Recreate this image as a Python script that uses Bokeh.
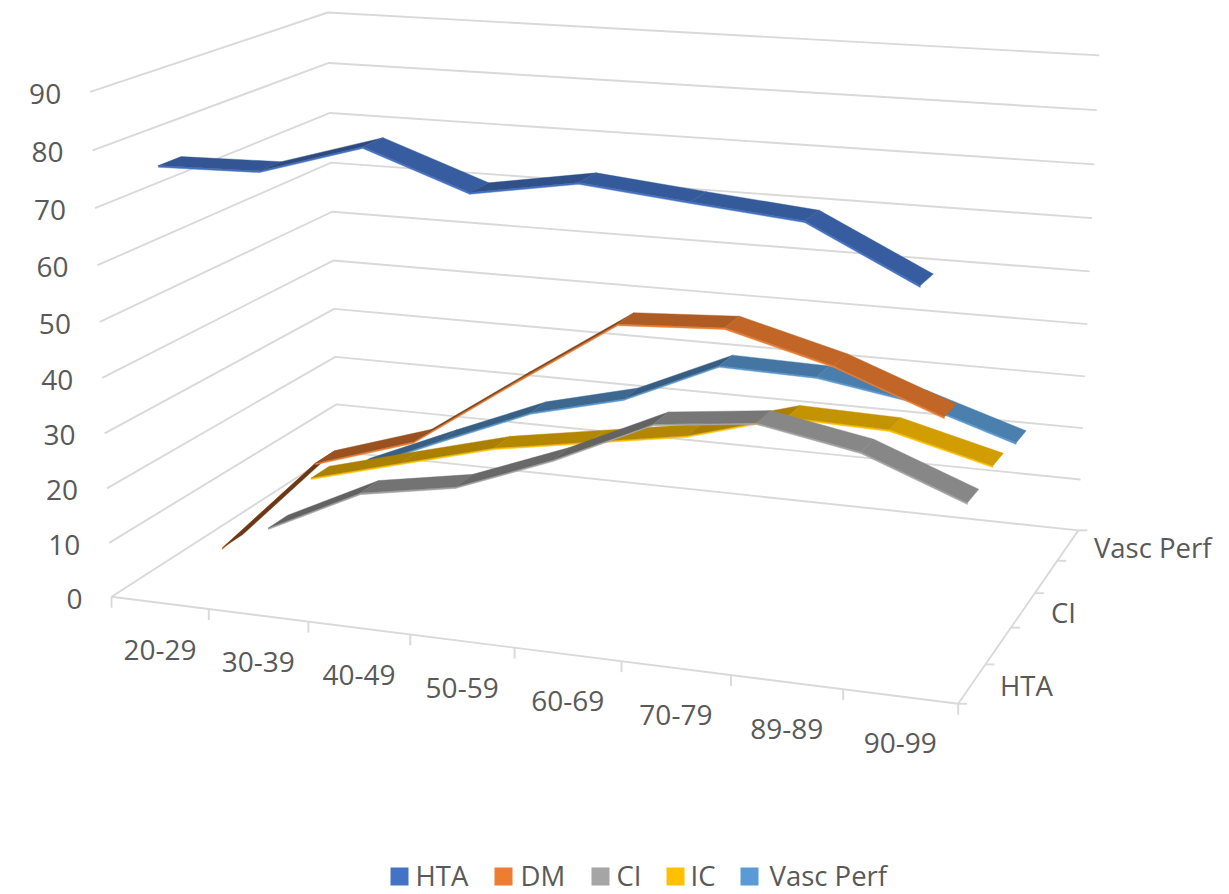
import numpy as np
from bokeh.plotting import figure
from bokeh.models import Range1d
from bokeh.core.properties import value
from bokeh.embed import file_html
from bokeh.resources import INLINE

# ---- data ----
categories = ["20-29", "30-39", "40-49", "50-59", "60-69", "70-79", "89-89", "90-99"]
series_names = ["HTA", "DM", "CI", "IC", "Vasc Perf"]
hta = [77.0, 77.4, 82.8, 76.4, 79.4, 77.6, 75.9, 66.9]
dm = [2.5, 20.6, 26.5, 39.0, 51.2, 52.2, 47.3, 40.3]
ci = [0.5, 9.4, 12.6, 19.7, 28.3, 30.4, 27.0, 19.8]
ic = [4.8, 9.8, 14.7, 17.8, 20.9, 26.3, 25.8, 21.0]
vasc_perf = [1.0, 8.9, 16.5, 21.1, 29.4, 29.0, 26.0, 20.0]
series_values = [hta, dm, ci, ic, vasc_perf]
series_colors = ["#4472C4", "#ED7D31", "#A5A5A5", "#FFC000", "#5B9BD5"]
value_ticks = [0, 10, 20, 30, 40, 50, 60, 70, 80, 90]
depth_labels = {0: "HTA", 2: "CI", 4: "Vasc Perf"}

# ---- camera: box corners (category, depth, value) seen on the page ----
anchors = [((0,0,0),(112,596)),((1,0,0),(958,703)),((0,1,0),(336,452)),((1,1,0),(1077,530)),
 ((0,0,90),(89,92)),((0,0,80),(92,150)),((0,0,70),(94,207)),((0,0,60),(97,265)),
 ((0,1,90),(327,12)),((0,1,80),(329,62)),((0,1,70),(330,113)),((0,1,60),(331,162)),
 ((0,1,50),(332,211)),((0,1,40),(333,260)),((0,1,10),(335,403)),
 ((1,1,90),(1098,55)),((1,1,80),(1096,109)),((1,1,70),(1094,164)),((1,1,60),(1092,218)),
 ((1,1,50),(1089,271)),((1,1,40),(1087,323)),((1,1,30),(1085,376)),((1,1,20),(1083,428)),((1,1,10),(1080,479))]
A, b = [], []
for (u, v, w), (x, y) in anchors:
    w = w / 90
    A.append([u, v, w, 1, 0, 0, 0, 0, -x*u, -x*v, -x*w]); b.append(x)
    A.append([0, 0, 0, 0, u, v, w, 1, -y*u, -y*v, -y*w]); b.append(y)
m = np.linalg.lstsq(np.array(A, float), np.array(b, float), rcond=None)[0]
M = np.array([m[:4], m[4:8], list(m[8:11]) + [1]])

def P(u, v, w):
    q = M @ np.array([u, v, w / 90, 1.0])
    return float(q[0] / q[2]), float(q[1] / q[2])

p = figure(width=1225, height=894, x_range=Range1d(0, 1225), y_range=Range1d(894, 0),
           output_backend="svg", toolbar_location=None, min_border=0,
           background_fill_color="white", border_fill_color="white", outline_line_color=None)
p.xaxis.visible = False
p.yaxis.visible = False
p.grid.visible = False

GRID = "#D9D9D9"
gx, gy = [], []
def seg(a, b):
    gx.append([a[0], b[0]]); gy.append([a[1], b[1]])

for t in value_ticks:
    a, c, d = P(0, 0, t), P(0, 1, t), P(1, 1, t)
    gx.append([a[0], c[0], d[0]]); gy.append([a[1], c[1], d[1]])
# floor edges and ticks
seg(P(0, 0, 0), P(1, 0, 0))
seg(P(1, 0, 0), P(1, 1, 0))
n = len(categories)
for i in range(n + 1):
    a = P(i / n, 0, 0)
    seg(a, (a[0], a[1] + 11))
k = len(series_names)
for j in range(k + 1):
    a = P(1, j / k, 0)
    seg(a, (a[0] + 9, a[1]))
p.multi_line(gx, gy, line_color=GRID, line_width=1.9)

# ---- ribbons, back to front ----
half = 0.44 / k / 2
thick = 0.3
for j in reversed(range(k)):
    vals = series_values[j]
    base = np.array([int(series_colors[j][i:i+2], 16) for i in (1, 3, 5)], float)
    vc = (j + 0.5) / k
    xs, ys, cols = [], [], []
    for i in range(n - 1):
        u0, u1 = (i + .5) / n, (i + 1.5) / n
        w0, w1 = vals[i], vals[i + 1]
        f = float(np.clip(0.76 - 0.018 * (w1 - w0), 0.45, 0.82))
        col = "#%02x%02x%02x" % tuple(int(c * f) for c in base)
        face = [P(u0, vc - half, w0), P(u1, vc - half, w1), P(u1, vc - half, w1 - thick), P(u0, vc - half, w0 - thick)]
        xs.append([q[0] for q in face]); ys.append([q[1] for q in face]); cols.append(series_colors[j])
        top = [P(u0, vc - half, w0), P(u1, vc - half, w1), P(u1, vc + half, w1), P(u0, vc + half, w0)]
        xs.append([q[0] for q in top]); ys.append([q[1] for q in top]); cols.append(col)
    p.patches(xs, ys, fill_color=cols, line_color=cols, line_width=0.4)

# ---- texts ----
FONT = value("Open Sans")
TXT = "#595959"
SIZE = "28px"
def label(xs, ys, texts, align, size=SIZE):
    p.text(xs, ys, text=texts, text_font=FONT, text_font_size=size, text_color=TXT,
           text_align=align, text_baseline="middle")

pv = [P(0, 0, t) for t in value_ticks]
label([q[0] - 29 for q in pv], [q[1] + 2 for q in pv], [str(t) for t in value_ticks], "right")
pc = [P((i + .5) / n, 0, 0) for i in range(n)]
label([q[0] for q in pc], [q[1] + 47 for q in pc], categories, "center")
dk = list(depth_labels)
pd_ = [P(1, (j + .5) / k, 0) for j in dk]
label([q[0] + (28 if j < 4 else 26) for q, j in zip(pd_, dk)], [q[1] + 2 for q in pd_], [depth_labels[j] for j in dk], "left", "27.5px")

# ---- legend ----
legend_left = [390, 494, 591, 666, 740]
legend_text = [415, 520, 616, 690, 769]
p.rect([x + 9 for x in legend_left], [876] * k, width=18, height=18,
       fill_color=series_colors, line_color=None)
label(legend_text, [875] * k, series_names, "left", "27.5px")

open("out.html", "w").write(file_html(p, INLINE))
